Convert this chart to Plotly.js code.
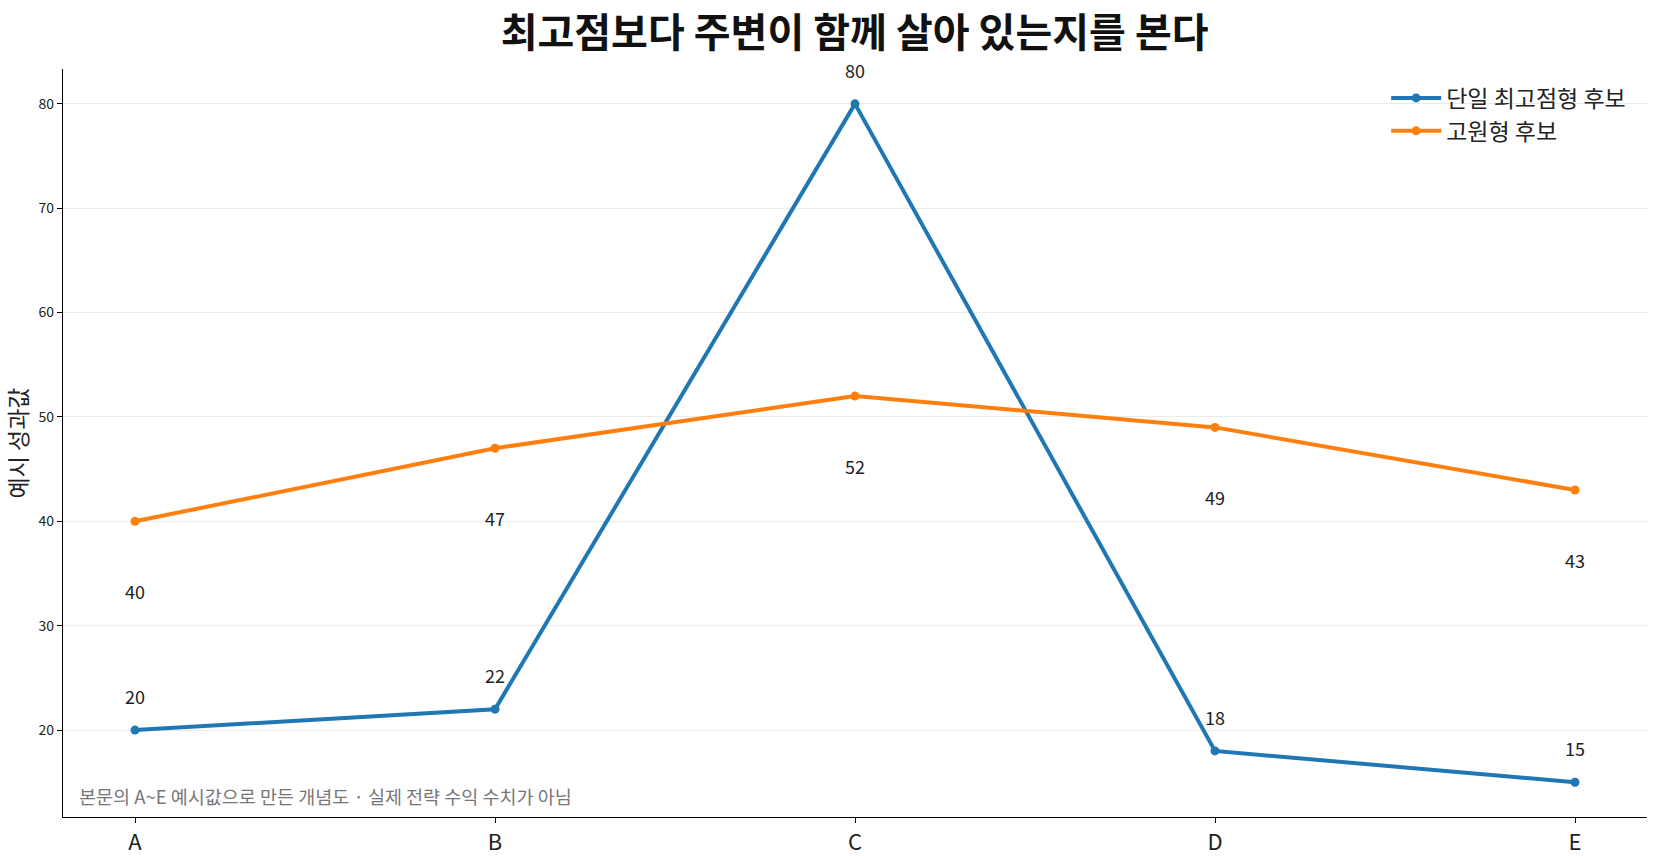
<!DOCTYPE html>
<html>
<head>
<meta charset="utf-8">
<script src="https://cdn.plot.ly/plotly-3.0.1.min.js"></script>
<style>
  html, body { margin: 0; padding: 0; background: #fff; }
  #chart { width: 1654px; height: 856px; }
</style>
</head>
<body>
<div id="chart"></div>
<script>
var categories = ['A', 'B', 'C', 'D', 'E'];
var peakValues = [20, 22, 80, 18, 15];
var plateauValues = [40, 47, 52, 49, 43];
var peakName = '단일 최고점형 후보';
var plateauName = '고원형 후보';

var FONT = '"Noto Sans CJK KR", "Noto Sans", sans-serif';

function drawChart() {
	var trace1 = {
		x: categories,
		y: peakValues,
		type: 'scatter',
		mode: 'lines+markers',
		name: peakName,
		line: { color: '#1f77b4', width: 4 },
		marker: { color: '#1f77b4', size: 9 }
	};

	var trace2 = {
		x: categories,
		y: plateauValues,
		type: 'scatter',
		mode: 'lines+markers',
		name: plateauName,
		line: { color: '#ff7f0e', width: 4 },
		marker: { color: '#ff7f0e', size: 9 }
	};

	var annotations = [];
	for (var i = 0; i < categories.length; i++) {
		annotations.push({
			x: categories[i], y: peakValues[i], text: String(peakValues[i]),
			showarrow: false, yshift: 34,
			font: { family: FONT, size: 18, color: '#222' }
		});
		annotations.push({
			x: categories[i], y: plateauValues[i], text: String(plateauValues[i]),
			showarrow: false, yshift: -70,
			font: { family: FONT, size: 18, color: '#222' }
		});
	}
	annotations.push({
		xref: 'paper', yref: 'paper', x: 0.009, y: 0.028,
		xanchor: 'left', yanchor: 'middle', showarrow: false,
		text: '본문의 A~E 예시값으로 만든 개념도 · 실제 전략 수익 수치가 아님',
		font: { family: FONT, size: 18.5, color: '#777' }
	});

	var layout = {
		width: 1654,
		height: 856,
		margin: { l: 63, r: 7, t: 69, b: 39 },
		paper_bgcolor: '#fff',
		plot_bgcolor: '#fff',
		font: { family: FONT, color: '#222' },
		title: {
			text: '<b>최고점보다 주변이 함께 살아 있는지를 본다</b>',
			font: { family: FONT, size: 40, color: '#111' },
			x: 0.5167, xanchor: 'center', y: 0.962, yanchor: 'middle'
		},
		xaxis: {
			range: [-0.2, 4.2],
			showline: true, linecolor: '#000', linewidth: 1.3,
			ticks: 'outside', ticklen: 5, tickcolor: '#000',
			showgrid: false, zeroline: false,
			tickfont: { family: FONT, size: 22, color: '#222' }
		},
		yaxis: {
			range: [11.67, 83.34],
			tickvals: [20, 30, 40, 50, 60, 70, 80],
			showline: true, linecolor: '#000', linewidth: 1.3,
			ticks: 'outside', ticklen: 5, tickcolor: '#000',
			showgrid: true, gridcolor: '#ebebeb', gridwidth: 1,
			zeroline: false,
			tickfont: { family: FONT, size: 14, color: '#222' },
			title: { text: '예시 성과값', standoff: 12, font: { family: FONT, size: 23, color: '#222' } }
		},
		legend: {
			x: 0.99, xanchor: 'right', y: 0.99, yanchor: 'top',
			bgcolor: 'rgba(0,0,0,0)',
			font: { family: FONT, size: 23, color: '#222' },
			itemwidth: 50,
			tracegroupgap: 0
		},
		annotations: annotations,
		showlegend: true
	};

	Plotly.newPlot('chart', [trace1, trace2], layout, { displayModeBar: false });
}

window.onload = drawChart;
</script>
</body>
</html>
